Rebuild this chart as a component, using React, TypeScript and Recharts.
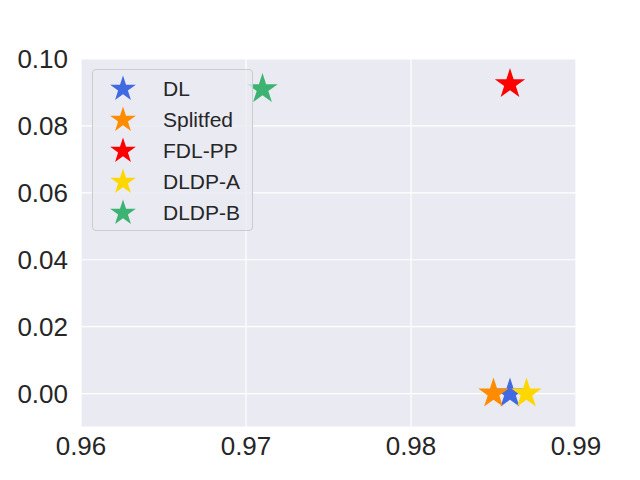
import { ScatterChart, Scatter, XAxis, YAxis, CartesianGrid } from 'recharts';

// methods compared: accuracy (x) vs. leakage (y)
const methods = ['DL', 'Splitfed', 'FDL-PP', 'DLDP-A', 'DLDP-B'];
const accuracy = [0.986, 0.985, 0.986, 0.987, 0.971];
const leakage = [0.0, 0.0, 0.0925, 0.0, 0.091];
const colors = ['#4169E1', '#FF8C00', '#FF0000', '#FFD700', '#3CB371'];

const xTicks = [0.96, 0.97, 0.98, 0.99];
const yTicks = [0.0, 0.02, 0.04, 0.06, 0.08, 0.1];

const FONT = '"Liberation Sans", Arial, sans-serif';
const TEXT = '#262626';

function starPath(cx: number, cy: number, r: number) {
  const inner = r * 0.381966;
  const pts: string[] = [];
  for (let i = 0; i < 10; i++) {
    const rad = i % 2 === 0 ? r : inner;
    const a = -Math.PI / 2 + (i * Math.PI) / 5;
    pts.push(`${(cx + rad * Math.cos(a)).toFixed(2)},${(cy + rad * Math.sin(a)).toFixed(2)}`);
  }
  return `M${pts.join('L')}Z`;
}

function StarShape(props: any) {
  const { cx, cy, fill } = props;
  if (cx == null || cy == null) return null;
  return <path d={starPath(cx, cy, 16)} fill={fill} />;
}

function StarLegend() {
  return (
    <div
      style={{
        position: 'absolute',
        left: 92,
        top: 69,
        width: 159,
        height: 157,
        background: 'rgba(234, 234, 242, 0.8)',
        border: '1px solid #cccccc',
        borderRadius: 4,
        fontFamily: FONT,
        fontSize: 21,
        color: TEXT,
        paddingTop: 3,
      }}
    >
      {methods.map((m, i) => (
        <div key={m} style={{ display: 'flex', alignItems: 'center', height: 31 }}>
          <svg width={30} height={30} style={{ marginLeft: 15 }}>
            <path d={starPath(15, 15, 13.5)} fill={colors[i]} />
          </svg>
          <span style={{ marginLeft: 25 }}>{m}</span>
        </div>
      ))}
    </div>
  );
}

export default function App() {
  const series = methods.map((m, i) => ({
    name: m,
    color: colors[i],
    data: [{ x: accuracy[i], y: leakage[i] }],
  }));

  return (
    <div style={{ position: 'absolute', left: 0, top: 0, width: 640, height: 480, background: '#ffffff' }}>
      <ScatterChart width={640} height={480} margin={{ top: 59, right: 64, bottom: 0, left: 0 }}>
        <CartesianGrid fill="#EAEAF2" stroke="#ffffff" strokeWidth={1.2} />
        <XAxis
          type="number"
          dataKey="x"
          domain={[0.96, 0.99]}
          ticks={xTicks}
          tickFormatter={(v: number) => v.toFixed(2)}
          axisLine={false}
          tickLine={false}
          tickSize={0}
          tickMargin={10}
          height={53}
          allowDataOverflow
          tick={{ fontSize: 26, fill: TEXT, fontFamily: FONT }}
        />
        <YAxis
          type="number"
          dataKey="y"
          domain={[-0.01, 0.1]}
          ticks={yTicks}
          tickFormatter={(v: number) => v.toFixed(2)}
          axisLine={false}
          tickLine={false}
          tickSize={0}
          tickMargin={13}
          width={81}
          allowDataOverflow
          tick={{ fontSize: 26, fill: TEXT, fontFamily: FONT }}
        />
        {series.map((s) => (
          <Scatter
            key={s.name}
            name={s.name}
            data={s.data}
            fill={s.color}
            shape={StarShape}
            isAnimationActive={false}
          />
        ))}
      </ScatterChart>
      <StarLegend />
    </div>
  );
}
